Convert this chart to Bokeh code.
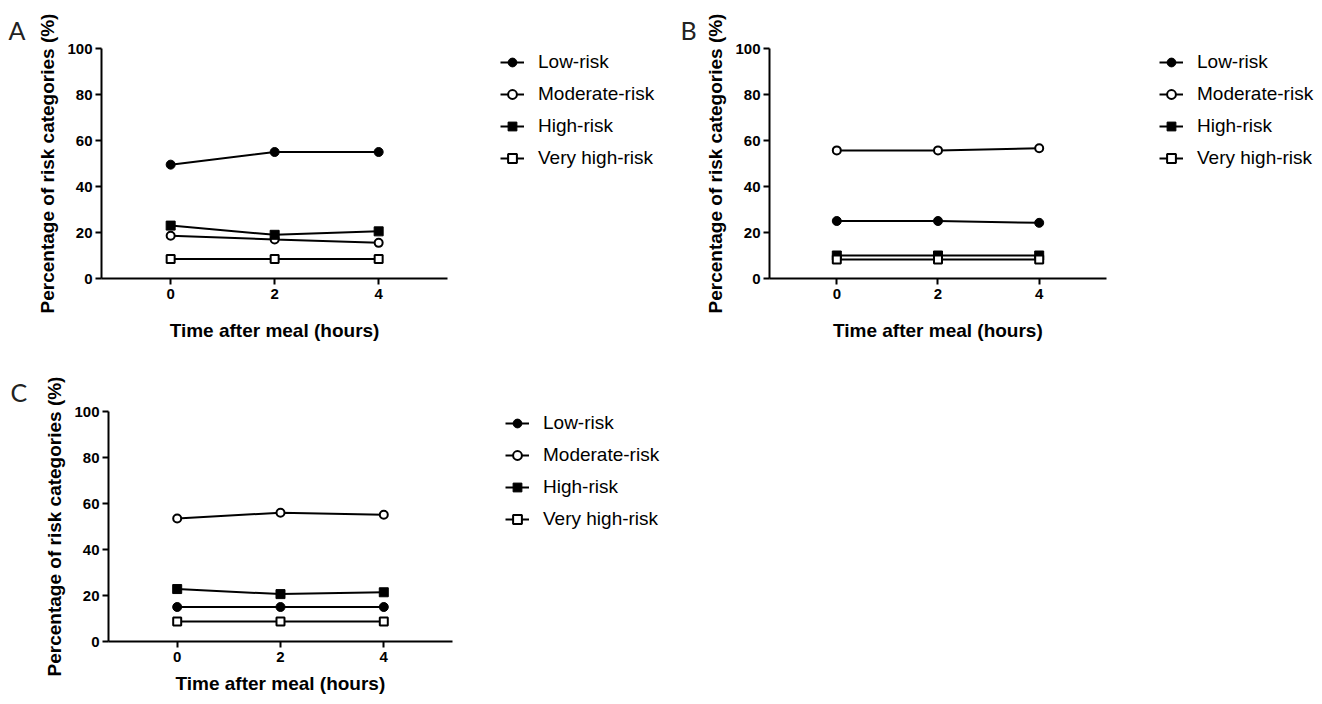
from bokeh.plotting import figure
from bokeh.models import Range1d, FixedTicker, Legend, LegendItem, Title
from bokeh.layouts import column, row
from bokeh.embed import file_html
from bokeh.resources import INLINE

# ---------------- data ----------------
time_hours = [0, 2, 4]
x_ticks = [0, 2, 4]
y_ticks = [0, 20, 40, 60, 80, 100]
series_names = ["Low-risk", "Moderate-risk", "High-risk", "Very high-risk"]

a_low = [49.5, 55.0, 55.0]
a_moderate = [18.6, 17.0, 15.5]
a_high = [23.0, 19.0, 20.5]
a_very_high = [8.5, 8.5, 8.5]

b_low = [25.0, 25.0, 24.2]
b_moderate = [55.7, 55.7, 56.6]
b_high = [10.0, 10.0, 10.0]
b_very_high = [8.3, 8.3, 8.3]

c_low = [15.0, 15.0, 15.0]
c_moderate = [53.5, 56.0, 55.1]
c_high = [22.8, 20.6, 21.4]
c_very_high = [8.7, 8.7, 8.7]

x_label = "Time after meal (hours)"
y_label = "Percentage of risk categories (%)"

FONT = "Liberation Sans"
XLABEL_PX_WIDTH = 210  # approx. rendered width of the x label (19px bold)

# marker styles: (marker, fill, line width)
styles = [("circle", "black", 1), ("circle", "white", 2), ("square", "black", 1), ("square", "white", 2)]


def panel(letter, series, px_per_x, frame_w, border_left, border_top, border_bottom,
          legend_x, legend_y, letter_offset, letter_standoff, xlab_standoff):
    frame_h = 231
    x_start = -1.33
    x_axis_end = 5.33
    x_end = x_start + frame_w / px_per_x
    width = border_left + frame_w + 2
    height = border_top + frame_h + border_bottom
    p = figure(width=width, height=height, output_backend="svg", toolbar_location=None,
               x_range=Range1d(x_start, x_end), y_range=Range1d(0, 100),
               min_border_left=border_left, min_border_right=2,
               min_border_top=border_top, min_border_bottom=border_bottom)
    p.outline_line_color = None
    p.xgrid.visible = False
    p.ygrid.visible = False

    p.title.text = letter
    p.title.align = "left"
    p.title.offset = letter_offset
    p.title.standoff = letter_standoff
    p.title.text_font = "Lato"
    p.title.text_font_style = "normal"
    p.title.text_font_size = "25px"
    p.title.text_color = "#222222"

    for ax in (p.xaxis[0], p.yaxis[0]):
        ax.axis_line_width = 2
        ax.axis_line_color = "black"
        ax.major_tick_line_width = 2
        ax.major_tick_line_color = "black"
        ax.major_tick_in = 0
        ax.major_tick_out = 6
        ax.minor_tick_line_color = None
        ax.major_label_text_font = FONT
        ax.major_label_text_font_style = "bold"
        ax.major_label_text_font_size = "15px"
        ax.major_label_text_color = "black"
        ax.axis_label_text_font = FONT
        ax.axis_label_text_font_style = "bold"
        ax.axis_label_text_font_size = "19px"
        ax.axis_label_text_color = "black"
    p.xaxis.ticker = FixedTicker(ticks=x_ticks)
    p.yaxis.ticker = FixedTicker(ticks=y_ticks)
    p.xaxis.bounds = (x_start, x_axis_end)
    p.yaxis.axis_label = y_label
    p.xaxis.major_label_standoff = 4
    p.yaxis.major_label_standoff = 3
    p.yaxis.axis_label_standoff = 6

    # x-axis title centred under the axis line (not under the whole frame)
    axis_px_len = (x_axis_end - x_start) * px_per_x
    xt = Title(text=x_label, align="left", offset=axis_px_len / 2 - XLABEL_PX_WIDTH / 2,
               standoff=xlab_standoff, vertical_align="top", text_font=FONT,
               text_font_style="bold", text_font_size="19px", text_color="black")
    p.add_layout(xt, "below")

    items = []
    for name, vals, (mk, fill, lw) in zip(series_names, series, styles):
        ln = p.line(time_hours, vals, line_color="black", line_width=2)
        sc = p.scatter(time_hours, vals, marker=mk, size=9 if lw == 1 else 8,
                       fill_color=fill, line_color="black", line_width=lw)
        items.append(LegendItem(label=name, renderers=[ln, sc]))

    leg = Legend(items=items, location=(legend_x, legend_y), padding=0, margin=0,
                 spacing=10, glyph_width=24, glyph_height=22, label_height=22,
                 label_standoff=14, border_line_color=None, background_fill_alpha=0,
                 label_text_font=FONT, label_text_font_size="19px", label_text_color="black")
    p.add_layout(leg)
    return p


pA = panel("A", [a_low, a_moderate, a_high, a_very_high], 52.0, 568, 101, 48, 81,
           399, 109, -93, 8, 36)
pB = panel("B", [b_low, b_moderate, b_high, b_very_high], 50.6, 547, 98, 48, 81,
           390, 109, -89, 8, 36)
pC = panel("C", [c_low, c_moderate, c_high, c_very_high], 51.65, 562, 108, 51, 61,
           397, 111, -98, 9, 16)

layout = column(row(pA, pB), pC)
open("out.html", "w").write(file_html(layout, INLINE))
